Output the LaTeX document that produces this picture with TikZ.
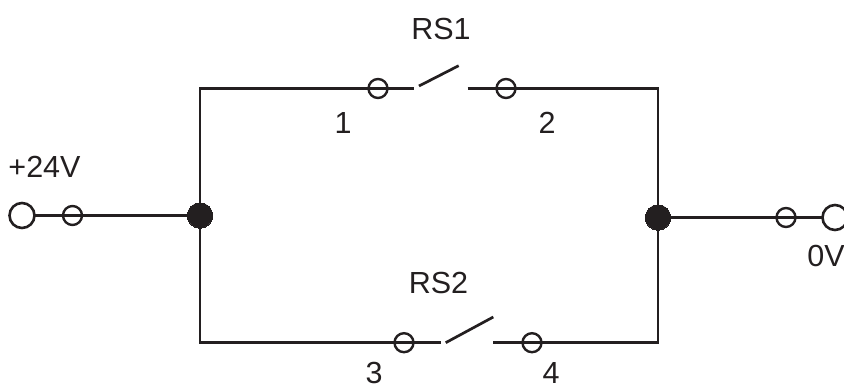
\documentclass[tikz,border=0pt]{standalone}
\usepackage{fontspec}
\setmainfont{Liberation Sans}
\definecolor{ink}{HTML}{231F20}
\tikzset{
  wire/.style={draw=ink,line width=2.7pt},
  blade/.style={draw=ink,line width=2.7pt},
  terminal/.style={circle,draw=ink,line width=2.6pt,fill=white,minimum size=25pt,inner sep=0pt,outer sep=0pt},
  contact/.style={circle,draw=ink,line width=2.4pt,minimum size=19pt,inner sep=0pt,outer sep=0pt},
  junction/.style={circle,draw=ink,fill=ink,line width=0pt,minimum size=25.5pt,inner sep=0pt,outer sep=0pt},
  lbl/.style={text=ink,font=\fontsize{30.5}{30.5}\selectfont,inner sep=0pt,anchor=base}
}
\begin{document}
\begin{tikzpicture}[x=1pt,y=-1pt]
\useasboundingbox (0,0) rectangle (844,385);
% corners and switch ends
\coordinate (tl) at (200,88.5);
\coordinate (tr) at (658,88.5);
\coordinate (bl) at (200,342.7);
\coordinate (br) at (658,342.7);
\coordinate (s1a) at (413.5,88.5);
\coordinate (s1b) at (467.7,88.5);
\coordinate (s1c) at (419,86);
\coordinate (s1d) at (458.7,65.7);
\coordinate (s2a) at (440.7,342.7);
\coordinate (s2b) at (493.3,342.7);
\coordinate (s2c) at (445.7,342.7);
\coordinate (s2d) at (493.3,317);
% nodes
\node[junction] (jl) at (200,215.5) {};
\node[junction] (jr) at (658,217.5) {};
\node[terminal] (pos) at (22,215.5) {};
\node[terminal] (neg) at (835,217.5) {};
\node[contact] (c0) at (72.5,215.5) {};
\node[contact] (c5) at (786,217.5) {};
\node[contact] (c1) at (378,88.5) {};
\node[contact] (c2) at (506,88.5) {};
\node[contact] (c3) at (404,342.7) {};
\node[contact] (c4) at (532,342.7) {};
% wires
\draw[wire] (pos) -- (jl);
\draw[wire] (jr) -- (neg);
\draw[wire] (jl.center) -- (tl) -- (s1a);
\draw[wire] (s1b) -- (tr) -- (jr.center);
\draw[wire] (jl.center) -- (bl) -- (s2a);
\draw[wire] (s2b) -- (br) -- (jr.center);
\draw[blade] (s1c) -- (s1d);
\draw[blade] (s2c) -- (s2d);
% labels
\node[lbl] (rs1) at (441,39.5) {RS1};
\node[lbl] (rs2) at (438.5,293) {RS2};
\node[lbl] (n1) at (343,134) {1};
\node[lbl] (n2) at (547,134) {2};
\node[lbl] (n3) at (374,383) {3};
\node[lbl] (n4) at (551,383) {4};
\node[lbl] (v24) at (44.5,178) {+24V};
\node[lbl] (v0) at (826,266.5) {0V};
\end{tikzpicture}
\end{document}
